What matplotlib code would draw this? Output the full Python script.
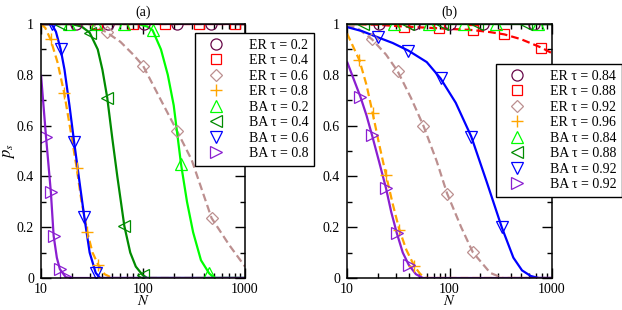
import matplotlib
matplotlib.use("Agg")
import matplotlib.pyplot as plt
from matplotlib.ticker import FixedLocator, FixedFormatter, MultipleLocator, LogLocator, NullFormatter

plt.rcParams['font.family'] = ['Liberation Serif', 'DejaVu Serif']
plt.rcParams['mathtext.fontset'] = 'stix'

# colours (xmgrace palette)
MAROON = "#670748"
RED = "#ff0000"
BROWN = "#bc8f8f"
ORANGE = "#ffa500"
LIME = "#00ff00"
GREEN4 = "#008b00"
BLUE = "#0000ff"
VIOLET = "#8a1ed0"

# ---- panel (a) ----
a_er02_lineN = [10, 1000]
a_er02_lineP = [1, 1]
a_er02_mkN = [22, 45, 102, 215, 464]
a_er02_mkP = [1, 1, 1, 1, 1]

a_er04_lineN = [10, 1000]
a_er04_lineP = [1, 1]
a_er04_mkN = [35.5, 80, 164, 355, 795]
a_er04_mkP = [1, 1, 1, 1, 1]

a_er06_lineN = [10, 30, 35, 44, 60, 80, 100, 150, 215, 300, 470, 700, 1000]
a_er06_lineP = [1, 1, 0.99, 0.967, 0.93, 0.88, 0.836, 0.70, 0.58, 0.465, 0.236, 0.13, 0.045]
a_er06_mkN = [44, 100, 215, 470]
a_er06_mkP = [0.967, 0.836, 0.58, 0.236]

a_er08_lineN = [10, 11, 12.4, 14.5, 16.9, 19.5, 22.4, 25, 28.5, 32, 36.5, 42, 50, 1000]
a_er08_lineP = [1, 0.985, 0.94, 0.85, 0.727, 0.58, 0.432, 0.3, 0.18, 0.1, 0.051, 0.015, 0, 0]
a_er08_mkN = [12.4, 16.9, 22.4, 28.5, 36.5]
a_er08_mkP = [0.94, 0.727, 0.432, 0.18, 0.051]

a_ba02_lineN = [10, 90, 110, 124, 150, 175, 200, 236, 270, 310, 370, 446, 500, 1000]
a_ba02_lineP = [1, 1, 0.99, 0.976, 0.9, 0.8, 0.68, 0.448, 0.3, 0.18, 0.07, 0.018, 0, 0]
a_ba02_mkN = [18.8, 35, 65, 124, 236, 446]
a_ba02_mkP = [1, 1, 1, 0.976, 0.448, 0.018]

a_ba04_lineN = [10, 20, 25, 30, 36, 40, 44.6, 50, 56, 65.6, 75, 85, 99, 110, 1000]
a_ba04_lineP = [1, 1, 0.99, 0.966, 0.9, 0.82, 0.71, 0.55, 0.4, 0.205, 0.1, 0.045, 0.012, 0, 0]
a_ba04_mkN = [15.3, 30.2, 44.6, 65.6, 99]
a_ba04_mkP = [1, 0.966, 0.71, 0.205, 0.012]

a_ba06_lineN = [10, 12.7, 14, 15.6, 17, 19, 21.1, 24, 26.6, 30, 34.4, 38, 1000]
a_ba06_lineP = [1, 1, 0.97, 0.9, 0.82, 0.68, 0.537, 0.37, 0.239, 0.1, 0.02, 0, 0]
a_ba06_mkN = [12.7, 15.6, 21.1, 26.6, 34.4]
a_ba06_mkP = [1, 0.9, 0.537, 0.239, 0.02]

a_ba08_lineN = [10, 11.2, 12.5, 13.3, 14.3, 15.3, 17.5, 20, 1000]
a_ba08_lineP = [0.8, 0.556, 0.337, 0.166, 0.08, 0.035, 0.003, 0, 0]
a_ba08_mkN = [11.2, 12.5, 13.3, 15.3, 17.5]
a_ba08_mkP = [0.556, 0.337, 0.166, 0.035, 0.003]

# ---- panel (b) ----
b_er084_lineN = [10, 1000]
b_er084_lineP = [1, 1]
b_er084_mkN = [20.7, 45.5, 100, 212, 667]
b_er084_mkP = [1, 1, 1, 1, 1]

b_er088_lineN = [10, 20, 36, 79, 169, 250, 344, 500, 787, 1000]
b_er088_lineP = [1, 0.997, 0.99, 0.983, 0.976, 0.968, 0.959, 0.94, 0.907, 0.885]
b_er088_mkN = [36, 79, 169, 344, 787]
b_er088_mkP = [0.99, 0.983, 0.976, 0.959, 0.907]

b_er092_lineN = [10, 13, 17.5, 24, 31.3, 42, 55.7, 75, 94.9, 130, 169, 250, 330, 1000]
b_er092_lineP = [0.996, 0.98, 0.94, 0.88, 0.813, 0.71, 0.599, 0.46, 0.332, 0.2, 0.101, 0.02, 0, 0]
b_er092_mkN = [17.5, 31.3, 55.7, 94.9, 169]
b_er092_mkP = [0.94, 0.813, 0.599, 0.332, 0.101]

b_er096_lineN = [10, 13.2, 15.5, 17.8, 20.5, 24, 28, 32.4, 38, 45.5, 52, 60, 1000]
b_er096_lineP = [0.963, 0.858, 0.76, 0.649, 0.53, 0.406, 0.29, 0.19, 0.11, 0.046, 0.015, 0, 0]
b_er096_mkN = [13.2, 17.8, 24, 32.4, 45.5]
b_er096_mkP = [0.858, 0.649, 0.406, 0.19, 0.046]

b_ba084_mkN = [28.6, 63.8, 140, 286, 730]
b_ba084_mkP = [1, 1, 1, 1, 1]

b_ba088_lineN = [10, 1000]
b_ba088_lineP = [1, 1]
b_ba088_mkN = [14.2, 39.2, 84.8, 185, 561]
b_ba088_mkP = [1, 1, 1, 1, 1]

b_ba092_lineN = [10, 14, 19.9, 28, 39.8, 60, 81.7, 115, 163, 230, 324, 420, 510, 620, 740, 1000]
b_ba092_lineP = [0.988, 0.972, 0.948, 0.925, 0.895, 0.85, 0.786, 0.69, 0.557, 0.38, 0.199, 0.08, 0.03, 0.008, 0, 0]
b_ba092_mkN = [19.9, 39.8, 81.7, 163, 324]
b_ba092_mkP = [0.948, 0.895, 0.786, 0.557, 0.199]

b_ba092b_lineN = [10, 13.5, 15.5, 17.5, 20.5, 24, 27, 30.6, 35, 40, 47, 55, 1000]
b_ba092b_lineP = [0.852, 0.714, 0.64, 0.564, 0.46, 0.354, 0.26, 0.177, 0.1, 0.052, 0.015, 0, 0]
b_ba092b_mkN = [13.5, 17.5, 24, 30.6, 40]
b_ba092b_mkP = [0.714, 0.564, 0.354, 0.177, 0.052]

a_labels = ["ER τ = 0.2", "ER τ = 0.4", "ER τ = 0.6", "ER τ = 0.8",
            "BA τ = 0.2", "BA τ = 0.4", "BA τ = 0.6", "BA τ = 0.8"]
b_labels = ["ER τ = 0.84", "ER τ = 0.88", "ER τ = 0.92", "ER τ = 0.96",
            "BA τ = 0.84", "BA τ = 0.88", "BA τ = 0.92", "BA τ = 0.92"]

colors = [MAROON, RED, BROWN, ORANGE, LIME, GREEN4, BLUE, VIOLET]
markers = ['o', 's', 'D', '+', '^', '<', 'v', '>']
msizes = [8, 7.5, 6, 9, 8, 8, 8, 8]

W, H = 622, 310
fig = plt.figure(figsize=(W / 100, H / 100), dpi=100)
axa = fig.add_axes([41 / W, 1 - 278 / H, 204 / W, 254 / H])
axb = fig.add_axes([347 / W, 1 - 278 / H, 205 / W, 254 / H])

DASH = (0, (3.5, 1.8))
LW = 1.6


def line(ax, N, P, c, dashed, z=2):
    ax.plot(N, P, color=c, lw=LW, ls=DASH if dashed else '-', zorder=z,
            solid_capstyle='butt')


def marks(ax, N, P, i, label):
    m = markers[i]
    if m == '+':
        ax.plot(N, P, ls='none', marker=m, ms=msizes[i], mew=1.0,
                color=colors[i], label=label, zorder=4)
    else:
        ax.plot(N, P, ls='none', marker=m, ms=msizes[i], mew=0.9,
                mfc='none', mec=colors[i], label=label, zorder=4)


# panel (a)
line(axa, a_er06_lineN, a_er06_lineP, BROWN, True)
line(axa, a_er08_lineN, a_er08_lineP, ORANGE, True)
line(axa, a_ba02_lineN, a_ba02_lineP, LIME, False)
line(axa, a_ba04_lineN, a_ba04_lineP, GREEN4, False)
line(axa, a_ba06_lineN, a_ba06_lineP, BLUE, False)
line(axa, a_ba08_lineN, a_ba08_lineP, VIOLET, False)
line(axa, a_er04_lineN, a_er04_lineP, RED, True)
line(axa, a_er02_lineN, a_er02_lineP, MAROON, False, z=3)

a_mk = [(a_er02_mkN, a_er02_mkP), (a_er04_mkN, a_er04_mkP), (a_er06_mkN, a_er06_mkP),
        (a_er08_mkN, a_er08_mkP), (a_ba02_mkN, a_ba02_mkP), (a_ba04_mkN, a_ba04_mkP),
        (a_ba06_mkN, a_ba06_mkP), (a_ba08_mkN, a_ba08_mkP)]
for i, (n, p) in enumerate(a_mk):
    marks(axa, n, p, i, a_labels[i])

# panel (b)
line(axb, b_er084_lineN, b_er084_lineP, MAROON, False)
line(axb, b_er088_lineN, b_er088_lineP, RED, True)
line(axb, b_er092_lineN, b_er092_lineP, BROWN, True)
line(axb, b_er096_lineN, b_er096_lineP, ORANGE, True)
line(axb, b_ba092_lineN, b_ba092_lineP, BLUE, False)
line(axb, b_ba092b_lineN, b_ba092b_lineP, VIOLET, False)
line(axb, b_ba088_lineN, b_ba088_lineP, GREEN4, False, z=3)

b_mk = [(b_er084_mkN, b_er084_mkP), (b_er088_mkN, b_er088_mkP), (b_er092_mkN, b_er092_mkP),
        (b_er096_mkN, b_er096_mkP), (b_ba084_mkN, b_ba084_mkP), (b_ba088_mkN, b_ba088_mkP),
        (b_ba092_mkN, b_ba092_mkP), (b_ba092b_mkN, b_ba092b_mkP)]
for i, (n, p) in enumerate(b_mk):
    marks(axb, n, p, i, b_labels[i])

for ax, title in [(axa, "(a)"), (axb, "(b)")]:
    ax.set_xscale('log')
    ax.set_xlim(10, 1000)
    ax.set_ylim(0, 1)
    ax.xaxis.set_major_locator(FixedLocator([10, 100, 1000]))
    ax.xaxis.set_major_formatter(FixedFormatter(["10", "100", "1000"]))
    ax.xaxis.set_minor_locator(LogLocator(base=10, subs=range(2, 10)))
    ax.xaxis.set_minor_formatter(NullFormatter())
    ax.yaxis.set_major_locator(FixedLocator([0, 0.2, 0.4, 0.6, 0.8, 1.0]))
    ax.yaxis.set_major_formatter(FixedFormatter(["0", "0.2", "0.4", "0.6", "0.8", "1"]))
    ax.yaxis.set_minor_locator(MultipleLocator(0.1))
    ax.tick_params(which='both', direction='in', top=True, right=True,
                   labelsize=10, width=1.0, colors='black')
    ax.tick_params(which='major', length=7)
    ax.tick_params(which='minor', length=3.5)
    ax.tick_params(axis='x', which='major', pad=3.5)
    ax.tick_params(axis='y', which='major', pad=5)
    for s in ax.spines.values():
        s.set_linewidth(1.1)
        s.set_zorder(5)
    ax.set_title(title, fontsize=10, pad=6)
    # x label placed by hand just under the tick labels
    bb = ax.get_position()
    fig.text((bb.x0 + bb.x1) / 2, 2 / H, "$N$", fontsize=10.5,
             ha='center', va='bottom')

axa.set_ylabel("$p_s$", fontsize=12, labelpad=0)

# legends sit at fixed figure positions, partly outside panel (a)
for ax, x0, y0 in [(axa, 195, 33), (axb, 496, 64)]:
    leg = ax.legend(loc='upper left', bbox_to_anchor=(x0 / W, 1 - y0 / H),
                    bbox_transform=fig.transFigure, fontsize=10, frameon=True,
                    fancybox=False, edgecolor='black', framealpha=1,
                    borderpad=0.4, labelspacing=0.18, handlelength=2.2,
                    handletextpad=1.3, borderaxespad=0)
    leg.get_frame().set_linewidth(1.0)
    leg.set_zorder(10)

fig.savefig("out.png", dpi=100)
